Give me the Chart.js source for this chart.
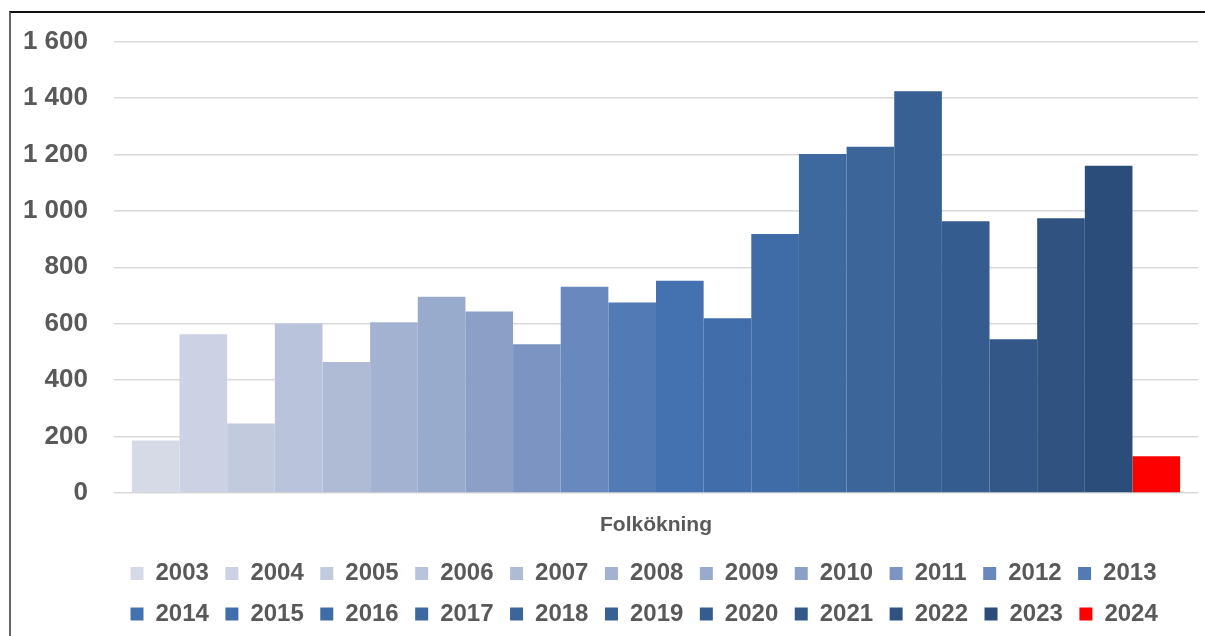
<!DOCTYPE html>
<html>
<head>
<meta charset="utf-8">
<script src="https://cdn.jsdelivr.net/npm/chart.js@4/dist/chart.umd.min.js"></script>
<style>
  html, body { margin: 0; padding: 0; background: #fff; }
  #wrap { position: relative; width: 1205px; height: 636px; overflow: hidden; }
  #frame {
    position: absolute; left: 9px; top: 11px; width: 1300px; height: 700px;
    border-top: 2px solid #111; border-left: 2px solid #666;
    pointer-events: none;
  }
</style>
</head>
<body>
<div id="wrap">
  <canvas id="popChart" width="1205" height="636"></canvas>
  <div id="frame"></div>
</div>
<script>
// ======== Data ========
const category = ["Folkökning"];
const years = [
  "2003", "2004", "2005", "2006", "2007", "2008", "2009", "2010", "2011", "2012", "2013",
  "2014", "2015", "2016", "2017", "2018", "2019", "2020", "2021", "2022", "2023", "2024",
];
const growth = [
  186, 563, 246, 601, 464, 605, 696, 643, 527, 731, 675,
  752, 619, 918, 1202, 1227, 1424, 963, 545, 974, 1160, 130,
];
const yTicks = [0, 200, 400, 600, 800, 1000, 1200, 1400, 1600];

// one colour per year, light grey-blue to dark navy, 2024 in red
const barColors = [
  "#D5DAE6", "#CCD2E4", "#C2CADD", "#B9C3DB", "#AFBAD5", "#A4B2D1", "#98ABCC",
  "#8C9FC7", "#7B94C2", "#6888BE", "#527AB5", "#4472B0", "#416EAA", "#3F6BA6",
  "#3E699F", "#3C659A", "#386093", "#345C8E", "#335888", "#2F5281", "#2B4D79",
  "#FF0000",
];

const textColor = "#595959";
const fontFamily = "'Liberation Sans', Arial, sans-serif";

// "1600" -> "1 600"
function spaced(v) {
  return String(v).replace(/\B(?=(\d{3})+(?!\d))/g, " ");
}

// ======== Chart ========
const datasets = years.map((y, i) => ({
  label: y,
  data: [growth[i]],
  backgroundColor: barColors[i],
  borderWidth: 0,
  barPercentage: 1,
  categoryPercentage: 0.967,
}));

new Chart(document.getElementById("popChart").getContext("2d"), {
  type: "bar",
  data: { labels: category, datasets },
  options: {
    responsive: false,
    animation: false,
    layout: { padding: { top: 30, left: 22, right: 7, bottom: 0 } },
    plugins: {
      tooltip: { enabled: false },
      legend: {
        position: "bottom",
        align: "start",
        fullSize: false,
        labels: {
          boxWidth: 13,
          boxHeight: 13,
          padding: 16.5,
          color: textColor,
          font: { family: fontFamily, size: 24, weight: "bold" },
        },
      },
    },
    scales: {
      x: {
        grid: { display: false, drawTicks: false },
        border: { display: false },
        ticks: {
          padding: 20,
          color: textColor,
          font: { family: fontFamily, size: 21, weight: "bold" },
        },
        afterFit: (scale) => { scale.height = 52; },
      },
      y: {
        min: yTicks[0],
        max: yTicks[yTicks.length - 1],
        grid: { color: "#D9D9D9", lineWidth: 1.5, drawTicks: false },
        border: { display: false },
        afterBuildTicks: (scale) => { scale.ticks = yTicks.map((v) => ({ value: v })); },
        afterFit: (scale) => { scale.width = 92; },
        ticks: {
          padding: 26,
          color: textColor,
          font: { family: fontFamily, size: 26, weight: "bold" },
          callback: (v) => spaced(v),
        },
      },
    },
  },
});
</script>
</body>
</html>
